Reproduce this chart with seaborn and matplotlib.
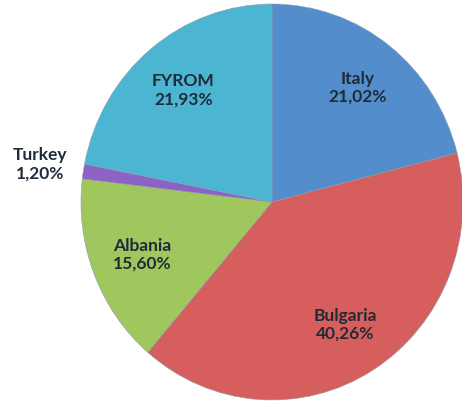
import numpy as np
import matplotlib
matplotlib.use("Agg")
import matplotlib.pyplot as plt
import seaborn as sns

countries = ["Italy", "Bulgaria", "Albania", "Turkey", "FYROM"]
shares = [21.02, 40.26, 15.60, 1.20, 21.93]
share_labels = ["21,02%", "40,26%", "15,60%", "1,20%", "21,93%"]
slice_colors = ["#538dcc", "#d65f5e", "#a0c65e", "#8c62c4", "#4cb6d2"]

sns.set_theme(style="white")
plt.rcParams["font.family"] = ["Lato", "DejaVu Sans"]

fig = plt.figure(figsize=(4.62, 4.01), dpi=100)
ax = fig.add_axes([0, 0, 1, 1])
palette = sns.color_palette(slice_colors)

wedges, _ = ax.pie(
    shares,
    colors=palette,
    startangle=90,
    counterclock=False,
    radius=1.0,
    wedgeprops=dict(linewidth=0.4, edgecolor="#8a9cb0"),
)

# slight vertical stretch of the disc
ax.set_aspect("auto")
ax.set_xlim(-272 / 191, (462 - 272) / 191)
ax.set_ylim(-199 / 198, 202 / 198)
ax.axis("off")

for w, name, lab in zip(wedges, countries, share_labels):
    mid = np.deg2rad((w.theta1 + w.theta2) / 2)
    dist = 1.23 if name == "Turkey" else 0.73
    ax.text(dist * np.cos(mid), dist * np.sin(mid), f"{name}\n{lab}",
            ha="center", va="center", fontsize=12.5, fontweight="bold",
            color="#1f2c38", linespacing=1.15)

fig.savefig("out.png", dpi=100, facecolor="white")
